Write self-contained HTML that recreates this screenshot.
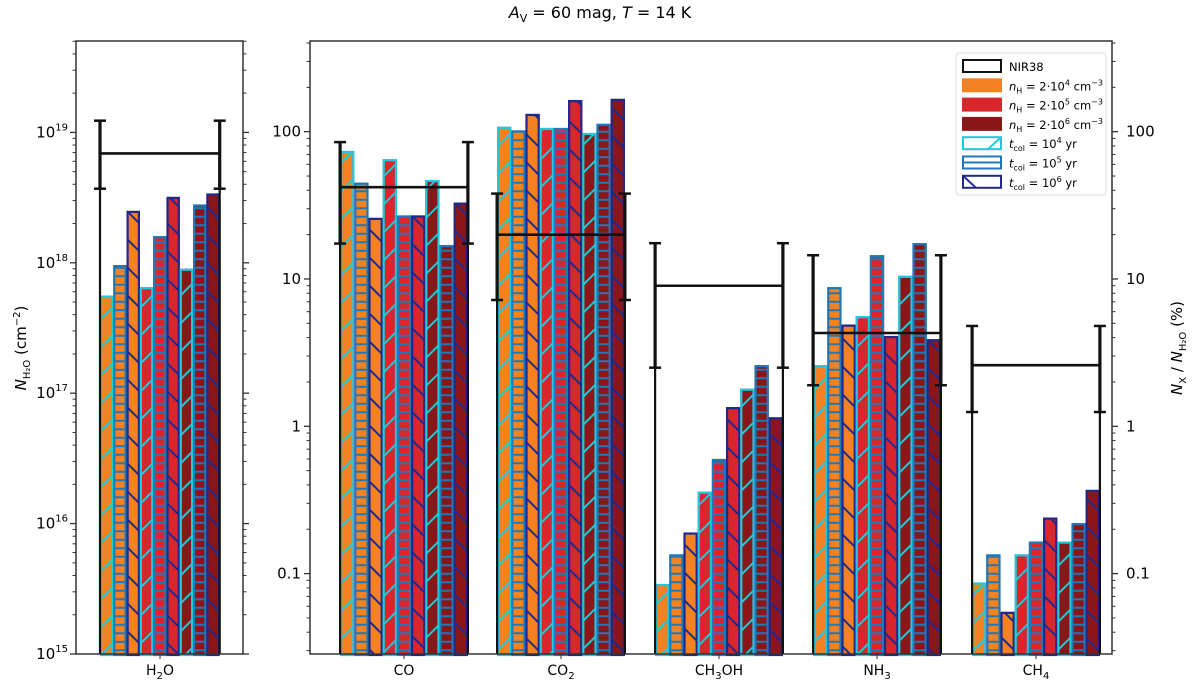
<!DOCTYPE html>
<html><head><meta charset="utf-8"><style>
html,body{margin:0;padding:0;background:#fff;}
svg{display:block;font-family:"DejaVu Sans","Liberation Sans",sans-serif;}
</style></head><body>
<svg id="chart" width="1200" height="681" viewBox="0 0 1200 681" xmlns="http://www.w3.org/2000/svg">
<defs>
<pattern id="h4" patternUnits="userSpaceOnUse" width="28" height="28"><path d="M-7,35 L35,-7 M-7,7 L7,-7 M21,35 L35,21" stroke="#1fc8dc" stroke-width="2"/></pattern>
<pattern id="h5" patternUnits="userSpaceOnUse" width="14" height="8.5"><path d="M0,4.25 H14" stroke="#1f78b8" stroke-width="2"/></pattern>
<pattern id="h6" patternUnits="userSpaceOnUse" width="28" height="28"><path d="M-7,-7 L35,35 M-7,21 L7,35 M21,-7 L35,7" stroke="#22288a" stroke-width="2"/></pattern>
</defs>
<text x="600" y="18" text-anchor="middle" font-size="16"><tspan font-style="italic">A</tspan><tspan font-size="11" dy="4">V</tspan><tspan dy="-4"> = 60 mag,  </tspan><tspan font-style="italic">T</tspan> = 14 K</text>
<text transform="translate(26,348) rotate(-90)" text-anchor="middle" font-size="15"><tspan font-style="italic">N</tspan><tspan font-size="10" dy="4">H₂O</tspan><tspan dy="-4">  (cm</tspan><tspan font-size="10" dy="-6">−2</tspan><tspan dy="6">)</tspan></text>
<text transform="translate(1182,348) rotate(-90)" text-anchor="middle" font-size="15"><tspan font-style="italic">N</tspan><tspan font-size="10" dy="4">X</tspan><tspan dy="-4"> / </tspan><tspan font-style="italic">N</tspan><tspan font-size="10" dy="4">H₂O</tspan><tspan dy="-4">  (%)</tspan></text>
<g id="plots"></g>
</svg>
<script>
const species = ["CO","CO2","CH3OH","NH3","CH4"];
const speciesLabels = [["CO",""],["CO","2"],["CH","3","OH"],["NH","3"],["CH","4"]];
const coVals = [74,45,26,65,27,27,47,17,33];
const co2Vals = [108,102,132,106,106,164,98,113,167];
const ch3ohVals = [0.085,0.135,0.19,0.36,0.6,1.35,1.8,2.6,1.15];
const nh3Vals = [2.6,8.8,4.9,5.6,14.5,4.1,10.5,17.5,3.9];
const ch4Vals = [0.087,0.135,0.055,0.135,0.165,0.24,0.165,0.22,0.37];
const obsCenter = [42,20,9,4.3,2.6];
const obsHigh = [85,38,17.5,14.5,4.8];
const obsLow = [17.4,7.2,2.5,1.9,1.25];
const h2oVals = [5.6e17,9.6e17,2.5e18,6.5e17,1.6e18,3.2e18,9.0e17,2.8e18,3.4e18];
const h2oObs = [6.9e18,1.23e19,3.7e18];
const rightTicks = [0.1,1,10,100];
const rightTickLabels = ["0.1","1","10","100"];
const leftTicks = [15,16,17,18,19];

const NS="http://www.w3.org/2000/svg";
const root=document.getElementById('plots');
function el(tag,attrs,parent){const e=document.createElementNS(NS,tag);for(const k in attrs)e.setAttribute(k,attrs[k]);(parent||root).appendChild(e);return e;}
const TOP=41,BOT=654;
const yL = v => 654 - 130.4*(Math.log10(v)-15);
const yR = v => 426.3 - 147.3*Math.log10(v);
const fills=["#f58220","#d8262c","#8a1619"];
const edges=["#1fc8dc","#1f78b8","#22288a"];
const hatches=["url(#h4)","url(#h5)","url(#h6)"];

function drawBars(g,vals,x0,w,yf,prefix){
  vals.forEach((v,i)=>{
    const n=Math.floor(i/3), t=i%3;
    const x=x0+i*w, y=yf(v), h=BOT-y;
    const r=el('rect',{x:x,y:y,width:w,height:h,fill:fills[n]},g);
    
    
    el('rect',{x:x,y:y,width:w,height:h,fill:hatches[t]},g);
    el('rect',{x:x+1,y:y+1,width:w-2,height:h,fill:'none',stroke:edges[t],'stroke-width':2.2},g);
  });
}
function drawObs(g,xl,xr,c,hi,lo,yf,prefix){
  const yc=yf(c),yh=yf(hi),yl=yf(lo);
  const grp=el('g',{},g);
  
  
  [xl,xr].forEach(x=>{
    el('line',{x1:x,y1:BOT,x2:x,y2:yc,stroke:'#111','stroke-width':2.2},grp);
    el('line',{x1:x,y1:yh,x2:x,y2:yl,stroke:'#111','stroke-width':3.2},grp);
    el('line',{x1:x-6,y1:yh,x2:x+6,y2:yh,stroke:'#111','stroke-width':2.5},grp);
    el('line',{x1:x-6,y1:yl,x2:x+6,y2:yl,stroke:'#111','stroke-width':2.5},grp);
  });
  el('line',{x1:xl,y1:yc,x2:xr,y2:yc,stroke:'#111','stroke-width':2.6},grp);
}
function minorTicks(g,x,dir,yf,decStart,decEnd,lenMaj,lenMin){
  for(let d=decStart;d<=decEnd;d++){
    for(let m=1;m<10;m++){
      const v=m*Math.pow(10,d); const y=yf(v);
      if(y<TOP-0.5||y>BOT+0.5) continue;
      const L=m===1?lenMaj:lenMin;
      el('line',{x1:x,y1:y,x2:x+dir*L,y2:y,stroke:'#333','stroke-width':m===1?1.3:1},g);
    }
  }
}
// LEFT PANEL
const gl=el('g',{});


drawBars(gl,h2oVals,100,13.3,yL,'h2o');
drawObs(gl,100,219.7,h2oObs[0],h2oObs[1],h2oObs[2],yL,'h2o');
el('rect',{x:76,y:TOP,width:167,height:BOT-TOP,fill:'none',stroke:'#333','stroke-width':1.5},gl);
minorTicks(gl,76,-1,yL,15,19,6,3.5);
minorTicks(gl,243,1,yL,15,19,6,3.5);
leftTicks.forEach(p=>{
  const t=el('text',{x:68,y:yL(Math.pow(10,p))+5,'text-anchor':'end','font-size':15},gl);
  
  
  t.textContent='10';
  const s=el('tspan',{dy:-7,'font-size':10},t); s.textContent=String(p);
});
const lx=el('text',{x:160,y:675,'text-anchor':'middle','font-size':14},gl);


lx.textContent='H'; const ls=el('tspan',{dy:4,'font-size':10},lx); ls.textContent='2'; const ls2=el('tspan',{dy:-4},lx); ls2.textContent='O';
el('line',{x1:160,y1:BOT,x2:160,y2:BOT+5,stroke:'#333'},gl);

// RIGHT PANEL
const gr=el('g',{});


const allVals=[coVals,co2Vals,ch3ohVals,nh3Vals,ch4Vals];
const centers=[404,561,719,877,1036];
const bw=14.2;
allVals.forEach((vals,k)=>{
  const x0=centers[k]-4.5*bw;
  drawBars(gr,vals,x0,bw,yR,species[k].toLowerCase());
  drawObs(gr,x0,x0+9*bw,obsCenter[k],obsHigh[k],obsLow[k],yR,species[k].toLowerCase());
  el('line',{x1:centers[k],y1:BOT,x2:centers[k],y2:BOT+5,stroke:'#333'},gr);
  const t=el('text',{x:centers[k],y:675,'text-anchor':'middle','font-size':14},gr);
  
  
  const lab=speciesLabels[k];
  t.appendChild(document.createTextNode(lab[0]));
  if(lab[1]){const s=el('tspan',{dy:4,'font-size':10},t);s.textContent=lab[1];}
  if(lab[2]){const s2=el('tspan',{dy:-4},t);s2.textContent=lab[2];}
});
el('rect',{x:310,y:TOP,width:802,height:BOT-TOP,fill:'none',stroke:'#333','stroke-width':1.5},gr);
minorTicks(gr,310,-1,yR,-2,2,6,3.5);
minorTicks(gr,1112,1,yR,-2,2,6,3.5);
rightTicks.forEach((v,i)=>{
  const y=yR(v);
  const a=el('text',{x:301,y:y+5,'text-anchor':'end','font-size':15},gr);
  
  
  a.textContent=rightTickLabels[i];
  const b=el('text',{x:1126,y:y+5,'text-anchor':'start','font-size':15},gr);
  
  
  b.textContent=rightTickLabels[i];
});

// LEGEND
const lg=el('g',{});


el('rect',{x:956,y:53,width:150,height:142,rx:3,fill:'#fff',stroke:'#ddd','stroke-width':1},lg);
const entries=[
 {f:'#fff',h:null,s:'#111',lab:['NIR38']},
 {f:fills[0],h:null,s:fills[0],lab:['n','H',' = 2·10','4',' cm','−3']},
 {f:fills[1],h:null,s:fills[1],lab:['n','H',' = 2·10','5',' cm','−3']},
 {f:fills[2],h:null,s:fills[2],lab:['n','H',' = 2·10','6',' cm','−3']},
 {f:'#fff',h:'h4',s:edges[0],lab:['t','col',' = 10','4',' yr']},
 {f:'#fff',h:'h5',s:edges[1],lab:['t','col',' = 10','5',' yr']},
 {f:'#fff',h:'h6',s:edges[2],lab:['t','col',' = 10','6',' yr']}
];
entries.forEach((e,i)=>{
  const y=60+i*19.3;
  const g=el('g',{},lg);
  
  
  el('rect',{x:963,y:y,width:38,height:12,fill:e.f,stroke:e.s,'stroke-width':2},g);
  if(i===4) el('line',{x1:988,y1:y+12,x2:1001,y2:y,stroke:e.s,'stroke-width':2},g);
  if(i===5) el('line',{x1:963,y1:y+6,x2:1001,y2:y+6,stroke:e.s,'stroke-width':2},g);
  if(i===6) el('line',{x1:963,y1:y,x2:976,y2:y+12,stroke:e.s,'stroke-width':2},g);
  const t=el('text',{x:1009,y:y+11,'font-size':11.5},g);
  const L=e.lab;
  if(L.length===1){t.textContent=L[0];return;}
  const a=el('tspan',{'font-style':'italic'},t);a.textContent=L[0];
  const b=el('tspan',{'font-size':8,dy:3},t);b.textContent=L[1];
  const c=el('tspan',{dy:-3},t);c.textContent=L[2];
  const d=el('tspan',{'font-size':8,dy:-5},t);d.textContent=L[3];
  const ee=el('tspan',{dy:5},t);ee.textContent=L[4];
  if(L[5]){const f=el('tspan',{'font-size':8,dy:-5},t);f.textContent=L[5];}
});
</script>
</body></html>
